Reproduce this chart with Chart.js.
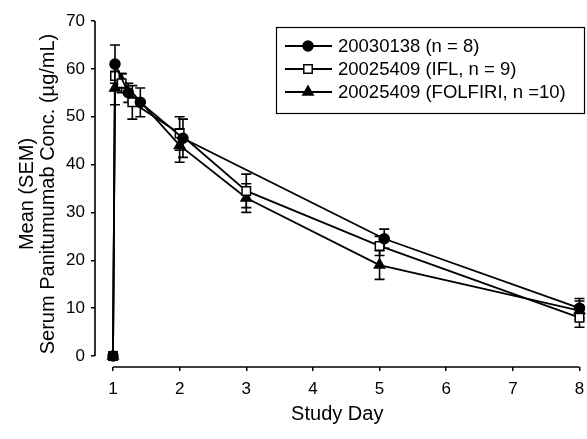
<!DOCTYPE html>
<html lang="en">
<head>
<meta charset="UTF-8">
<title>Serum Panitumumab Concentration</title>
<script src="https://cdn.jsdelivr.net/npm/chart.js"></script>
<style>
    body { margin: 0; background: #fff; }
    #wrap { width: 587px; height: 439px; }
</style>
</head>
<body>
<div id="wrap"><canvas id="pk-chart" width="587" height="439"></canvas></div>
<script>
// axis ticks
const dayTicks = [1, 2, 3, 4, 5, 6, 7, 8];
const concTicks = [0, 10, 20, 30, 40, 50, 60, 70];

// 20030138 (n = 8)
const days0138 = [1, 1.03, 1.23, 1.41, 2.05, 5.07, 8];
const conc0138 = [0, 61, 55, 53, 45.5, 24.5, 10];
const sem0138  = [0, 4, 2, 3, 4, 2, 2];

// 20025409 (IFL, n = 9)
const daysIfl = [1, 1.03, 1.13, 1.29, 2.0, 3.0, 5.0, 8];
const concIfl = [0, 58.5, 57, 53, 46.5, 34.5, 23, 8];
const semIfl  = [0, 3, 2, 3.5, 3.5, 3.5, 2, 2];

// 20025409 (FOLFIRI, n =10)
const daysFol = [1, 1.03, 1.13, 2.0, 3.0, 5.0, 8];
const concFol = [0, 56, 57.5, 44, 33, 19, 9.5];
const semFol  = [0, 3.5, 1.5, 3.5, 3, 3, 2];

const FONT = '"Liberation Sans", Arial, sans-serif';

function toPoints(xs, ys) {
    return xs.map((d, i) => ({ x: d, y: ys[i] }));
}

// vertical SEM bars with caps
const errorBars = {
    id: 'errorBars',
    beforeDatasetsDraw(chart) {
        const { ctx, scales: { x, y } } = chart;
        ctx.save();
        ctx.strokeStyle = '#000';
        ctx.lineWidth = 1.6;
        chart.data.datasets.forEach(ds => {
            ds.data.forEach((p, i) => {
                const e = ds.sem[i];
                if (!e) return;
                const px = x.getPixelForValue(p.x);
                const top = y.getPixelForValue(p.y + e);
                const bot = y.getPixelForValue(p.y - e);
                ctx.beginPath();
                ctx.moveTo(px, top); ctx.lineTo(px, bot);
                ctx.moveTo(px - 5, top); ctx.lineTo(px + 5, top);
                ctx.moveTo(px - 5, bot); ctx.lineTo(px + 5, bot);
                ctx.stroke();
            });
        });
        ctx.restore();
    }
};

// detached axis lines (y from 0 to 70, x from day 1 to day 8)
const axisLines = {
    id: 'axisLines',
    beforeDatasetsDraw(chart) {
        const { ctx, chartArea, scales: { x, y } } = chart;
        ctx.save();
        ctx.strokeStyle = '#000';
        ctx.lineWidth = 1.6;
        ctx.beginPath();
        ctx.moveTo(chartArea.left, y.getPixelForValue(concTicks[concTicks.length - 1]));
        ctx.lineTo(chartArea.left, y.getPixelForValue(concTicks[0]));
        ctx.moveTo(x.getPixelForValue(dayTicks[0]), chartArea.bottom);
        ctx.lineTo(x.getPixelForValue(dayTicks[dayTicks.length - 1]), chartArea.bottom);
        ctx.stroke();
        ctx.restore();
    }
};

// boxed legend, line + marker samples
const boxLegend = {
    id: 'boxLegend',
    afterDraw(chart) {
        const { ctx } = chart;
        const left = 276, top = 27, right = 584, bottom = 113;
        const rows = [46, 69, 92];
        ctx.save();
        ctx.strokeStyle = '#000';
        ctx.lineWidth = 1.2;
        ctx.strokeRect(left + 0.5, top + 0.5, right - left, bottom - top);
        ctx.font = '18.5px ' + FONT;
        ctx.textBaseline = 'middle';
        chart.data.datasets.forEach((ds, i) => {
            const ry = rows[i];
            ctx.lineWidth = 1.8;
            ctx.strokeStyle = '#000';
            ctx.beginPath();
            ctx.moveTo(285, ry); ctx.lineTo(332, ry);
            ctx.stroke();
            ctx.fillStyle = ds.pointBackgroundColor;
            ctx.lineWidth = 1.5;
            Chart.helpers.drawPoint(ctx, {
                pointStyle: ds.pointStyle,
                radius: ds.pointRadius,
                rotation: 0,
                borderWidth: ds.pointBorderWidth
            }, 308, ry);
            ctx.fillStyle = '#000';
            ctx.fillText(ds.label, 338, ry + 1);
        });
        ctx.restore();
    }
};

const markerBase = {
    borderColor: '#000',
    borderWidth: 1.8,
    pointBorderColor: '#000',
    pointBorderWidth: 1.5,
    tension: 0,
    fill: false,
    clip: false
};

new Chart(document.getElementById('pk-chart'), {
    type: 'line',
    data: {
        datasets: [
            Object.assign({}, markerBase, {
                label: '20030138 (n = 8)',
                data: toPoints(days0138, conc0138),
                sem: sem0138,
                pointStyle: 'circle',
                pointRadius: 5,
                pointBackgroundColor: '#000'
            }),
            Object.assign({}, markerBase, {
                label: '20025409 (IFL, n = 9)',
                data: toPoints(daysIfl, concIfl),
                sem: semIfl,
                pointStyle: 'rect',
                pointRadius: 6,
                pointBackgroundColor: '#fff'
            }),
            Object.assign({}, markerBase, {
                label: '20025409 (FOLFIRI, n =10)',
                data: toPoints(daysFol, concFol),
                sem: semFol,
                pointStyle: 'triangle',
                pointRadius: 6,
                pointBackgroundColor: '#000'
            })
        ]
    },
    options: {
        responsive: false,
        animation: false,
        devicePixelRatio: 1,
        layout: { padding: { top: 21, right: 7, left: 0, bottom: 0 } },
        plugins: {
            legend: { display: false },
            tooltip: { enabled: false }
        },
        scales: {
            x: {
                type: 'linear',
                min: 0.73,
                max: 8,
                afterBuildTicks: s => { s.ticks = dayTicks.map(v => ({ value: v })); },
                afterFit: s => { s.height = 72; s.paddingLeft = 0; s.paddingRight = 0; },
                border: { display: false },
                grid: { drawOnChartArea: false, drawTicks: true, tickLength: 4, color: '#000', lineWidth: 1.5 },
                ticks: { color: '#000', font: { family: FONT, size: 17 }, padding: 8, maxRotation: 0 },
                title: {
                    display: true,
                    text: 'Study Day',
                    color: '#000',
                    font: { family: FONT, size: 20 },
                    padding: { top: 0, bottom: 13 }
                }
            },
            y: {
                type: 'linear',
                min: -2.3,
                max: 70,
                afterBuildTicks: s => { s.ticks = concTicks.map(v => ({ value: v })); },
                afterFit: s => { s.width = 95; s.paddingTop = 0; s.paddingBottom = 0; },
                border: { display: false },
                grid: { drawOnChartArea: false, drawTicks: true, tickLength: 4, color: '#000', lineWidth: 1.5 },
                ticks: { color: '#000', font: { family: FONT, size: 17 }, padding: 6 },
                title: {
                    display: true,
                    text: ['Mean (SEM)', 'Serum Panitumumab Conc. (\u00b5g/mL)'],
                    color: '#000',
                    font: { family: FONT, size: 20, lineHeight: 1.05 },
                    padding: { top: 17, bottom: 0 }
                }
            }
        }
    },
    plugins: [axisLines, errorBars, boxLegend]
});
</script>
</body>
</html>
